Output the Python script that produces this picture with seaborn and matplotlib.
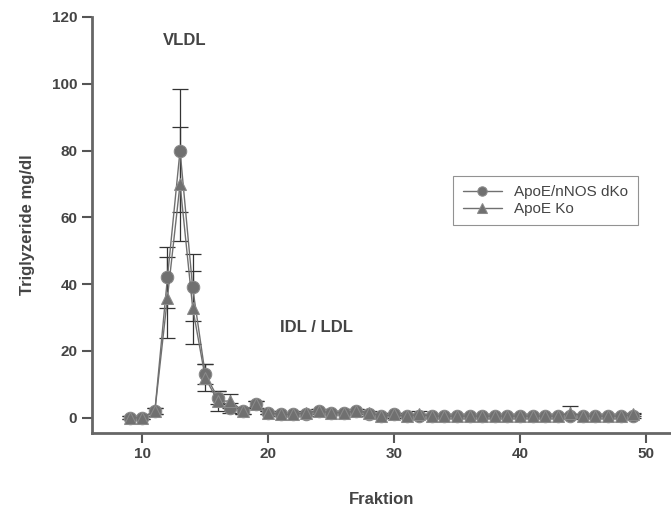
import numpy as np
import pandas as pd
import matplotlib
matplotlib.use("Agg")
import matplotlib.pyplot as plt
import seaborn as sns

# Fraktionen 9..49
fraktion = list(range(9, 50))
dko = [0, 0, 2, 42, 80, 39, 13, 6, 3, 2, 4, 1.5, 1, 1, 1, 2, 1.5, 1.5, 2, 1,
       0.5, 1, 0.5, 0.5, 0.5, 0.5, 0.5, 0.5, 0.5, 0.5, 0.5, 0.5, 0.5, 0.5, 0.5,
       0.5, 0.5, 0.5, 0.5, 0.5, 0.5]
dko_err = [0.5, 0.5, 1, 9, 18.5, 10, 3, 2, 1.5, 1, 1, 0.5, 0.5, 0.5, 0.5, 0.5, 0.5, 0.5, 0.5, 0.5,
           0.5, 0.5, 0.5, 0.5, 0.5, 0.5, 0.5, 0.5, 0.5, 0.5, 0.5, 0.5, 0.5, 0.5, 0.5,
           0.5, 0.5, 0.5, 0.5, 0.5, 0.5]
ko = [0, 0, 2, 36, 70, 33, 12, 5, 5, 2, 4, 1.5, 1, 1, 1.5, 2, 1.5, 1.5, 2, 1.5,
      0.5, 1, 0.5, 1, 0.5, 0.5, 0.5, 0.5, 0.5, 0.5, 0.5, 0.5, 0.5, 0.5, 0.5,
      1.5, 0.5, 0.5, 0.5, 0.5, 1]
ko_err = [0.5, 0.5, 1, 12, 17, 11, 4, 3, 2, 1, 1, 0.5, 0.5, 0.5, 0.5, 0.5, 0.5, 0.5, 0.5, 0.5,
          0.5, 0.5, 0.5, 1, 0.5, 0.5, 0.5, 0.5, 0.5, 0.5, 0.5, 0.5, 0.5, 0.5, 0.5,
          2, 0.5, 0.5, 0.5, 0.5, 0.5]

df = pd.DataFrame({
    "Fraktion": fraktion * 2,
    "TG": dko + ko,
    "Gruppe": ["ApoE/nNOS dKo"] * len(fraktion) + ["ApoE Ko"] * len(fraktion),
})

sns.set_style("white")
plt.rcParams["font.family"] = ["Liberation Sans", "DejaVu Sans"]
plt.rcParams["font.weight"] = "bold"

fig = plt.figure(figsize=(6.71, 5.11), dpi=100)
ax = fig.add_axes([0.137, 0.153, 0.863, 0.814])

ax.errorbar(fraktion, dko, yerr=dko_err, fmt="none", ecolor="#333333", elinewidth=0.9, capsize=6, capthick=0.9, zorder=1)
ax.errorbar(fraktion, ko, yerr=ko_err, fmt="none", ecolor="#333333", elinewidth=0.9, capsize=6, capthick=0.9, zorder=1)

sns.lineplot(data=df, x="Fraktion", y="TG", hue="Gruppe", style="Gruppe",
             markers={"ApoE/nNOS dKo": "o", "ApoE Ko": "^"}, dashes=False,
             palette={"ApoE/nNOS dKo": "#707070", "ApoE Ko": "#707070"},
             markersize=9, markeredgecolor="#8a8a8a", linewidth=1.0, ax=ax, zorder=3)

ax.set_xlim(6, 52)
ax.set_ylim(-4.5, 120)
ax.set_xticks([10, 20, 30, 40, 50])
ax.set_yticks([0, 20, 40, 60, 80, 100, 120])
ax.tick_params(axis="both", direction="out", length=7, width=1.5, color="#555555",
               labelsize=11, labelcolor="#444444", bottom=True, left=True)
for lab in ax.get_xticklabels() + ax.get_yticklabels():
    lab.set_fontweight("bold")

for s in ["top", "right"]:
    ax.spines[s].set_visible(False)
for s in ["left", "bottom"]:
    ax.spines[s].set_color("#666666")
    ax.spines[s].set_linewidth(2)

ax.set_xlabel("Fraktion", fontsize=12, fontweight="bold", color="#444444", labelpad=22)
ax.set_ylabel("Triglyzeride mg/dl", fontsize=12, fontweight="bold", color="#444444", labelpad=12)

ax.text(13.4, 113, "VLDL", fontsize=12, fontweight="bold", color="#444444", ha="center", va="center")
ax.text(23.8, 27, "IDL / LDL", fontsize=12, fontweight="bold", color="#444444", ha="center", va="center")

leg = ax.legend(loc="upper left", bbox_to_anchor=(0.611, 0.636), frameon=True, fancybox=False,
                fontsize=11, handlelength=2.6, borderpad=0.6, labelspacing=0.2,
                markerscale=0.75, title=None)
leg.get_frame().set_edgecolor("#777777")
leg.get_frame().set_linewidth(0.8)
for t in leg.get_texts():
    t.set_fontweight("normal")
    t.set_color("#444444")

fig.savefig("out.png", dpi=100)
